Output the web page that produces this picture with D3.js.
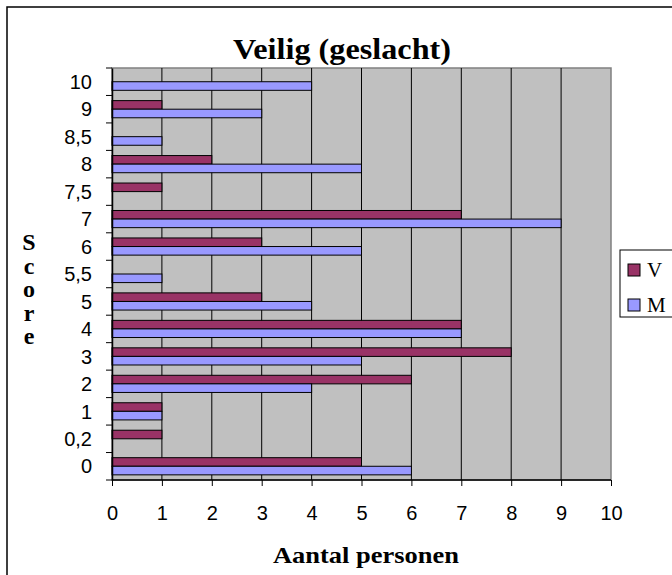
<!DOCTYPE html>
<meta charset="UTF-8">
<style>
  body { margin: 0; background: #fff; }
  .ttl { font-family: "Liberation Serif", "Times New Roman", serif; font-weight: bold; fill: #000; }
</style>
<body>
<svg id="chart" width="672" height="575"></svg>
<script src="https://cdnjs.cloudflare.com/ajax/libs/d3/7.8.5/d3.min.js"></script>
<script>

// categories from top to bottom, as printed on the axis
var scores = ["10", "9", "8,5", "8", "7,5", "7", "6", "5,5", "5", "4", "3", "2", "1", "0,2", "0"];
var seriesNames = ["V", "M"];
var valuesV = [0, 1, 0, 2, 1, 7, 3, 0, 3, 7, 8, 6, 1, 1, 5];
var valuesM = [4, 3, 1, 5, 0, 9, 5, 1, 4, 7, 5, 4, 1, 0, 6];
var xTicks = [0, 1, 2, 3, 4, 5, 6, 7, 8, 9, 10];

var colors = {V: "#993366", M: "#9999FF"};
var tickFont = "'Liberation Sans', Arial, sans-serif";

var svg = d3.select("#chart");

// outer chart frame (runs off the picture on right and bottom)
svg.append("rect")
  .attr("x", 7).attr("y", 7)
  .attr("width", 720).attr("height", 620)
  .attr("fill", "#fff")
  .attr("stroke", "#000")
  .attr("stroke-width", 1.5);

var plot = {left: 112, right: 611, top: 68, bottom: 480};

var x = d3.scaleLinear().domain([0, 10]).range([plot.left, plot.right]);
var y = d3.scaleBand().domain(scores).range([plot.top, plot.bottom]);
var inner = d3.scaleBand().domain(seriesNames)
  .range([0, y.bandwidth()])
  .paddingOuter(0.6);

// plot area
svg.append("rect")
  .attr("x", plot.left).attr("y", plot.top)
  .attr("width", plot.right - plot.left).attr("height", plot.bottom - plot.top)
  .attr("fill", "#C0C0C0")
  .attr("stroke", "#808080")
  .attr("stroke-width", 1.5);

// vertical gridlines
svg.append("g").selectAll("line")
  .data(xTicks.slice(1, -1))
  .enter().append("line")
    .attr("x1", d => x(d)).attr("x2", d => x(d))
    .attr("y1", plot.top).attr("y2", plot.bottom)
    .attr("stroke", "#000")
    .attr("stroke-width", 1);

// bars
var rows = scores.map(function(s, i) {
  return {score: s, V: valuesV[i], M: valuesM[i]};
});

var group = svg.append("g").selectAll("g")
  .data(rows)
  .enter().append("g")
    .attr("transform", d => "translate(0," + y(d.score) + ")");

group.selectAll("rect")
  .data(d => seriesNames.map(k => ({key: k, value: d[k]})).filter(e => e.value > 0))
  .enter().append("rect")
    .attr("x", x(0))
    .attr("y", d => inner(d.key))
    .attr("width", d => x(d.value) - x(0))
    .attr("height", inner.bandwidth())
    .attr("fill", d => colors[d.key])
    .attr("stroke", "#000")
    .attr("stroke-width", 1);

// x axis
var xAxis = svg.append("g")
  .attr("transform", "translate(0," + plot.bottom + ")")
  .call(d3.axisBottom(x).tickValues(xTicks).tickSize(6).tickPadding(20).tickFormat(d3.format("d")));
xAxis.attr("font-size", 20).attr("font-family", tickFont);
xAxis.select(".domain").attr("stroke", "#000").attr("stroke-width", 1.5).attr("d", "M" + plot.left + ",0H" + plot.right);
xAxis.selectAll(".tick line").attr("stroke", "#000");

// y axis: labels at band centres, ticks at band boundaries
var yAxis = svg.append("g")
  .attr("transform", "translate(" + plot.left + ",0)")
  .call(d3.axisLeft(y).tickSize(0).tickPadding(20));
yAxis.attr("font-size", 20).attr("font-family", tickFont);
yAxis.select(".domain").attr("stroke", "#000").attr("stroke-width", 1.5);
yAxis.selectAll(".tick text").attr("dy", "0.36em");

var bounds = scores.map(s => y(s)).concat([plot.bottom]);
yAxis.append("g").selectAll("line")
  .data(bounds)
  .enter().append("line")
    .attr("x1", -6).attr("x2", 0)
    .attr("y1", d => d).attr("y2", d => d)
    .attr("stroke", "#000");

// titles
svg.append("text")
  .attr("class", "ttl")
  .attr("x", 342).attr("y", 59)
  .attr("text-anchor", "middle")
  .attr("textLength", 218)
  .attr("lengthAdjust", "spacingAndGlyphs")
  .style("font-size", "30px")
  .text("Veilig (geslacht)");

svg.append("text")
  .attr("class", "ttl")
  .attr("x", 366).attr("y", 563)
  .attr("text-anchor", "middle")
  .attr("textLength", 186)
  .attr("lengthAdjust", "spacingAndGlyphs")
  .style("font-size", "23px")
  .text("Aantal personen");

svg.append("g").selectAll("text")
  .data("Score".split(""))
  .enter().append("text")
    .attr("class", "ttl")
    .attr("x", 29)
    .attr("y", (d, i) => 250 + i * 23.5)
    .attr("text-anchor", "middle")
    .style("font-size", "24px")
    .text(d => d);

// legend
var legend = svg.append("g").attr("transform", "translate(620,250)");
legend.append("rect")
  .attr("width", 80).attr("height", 67)
  .attr("fill", "#fff")
  .attr("stroke", "#000");

var item = legend.selectAll("g.item")
  .data(seriesNames)
  .enter().append("g")
    .attr("class", "item")
    .attr("transform", (d, i) => "translate(8," + (14 + i * 35) + ")");

item.append("rect")
  .attr("width", 12).attr("height", 12)
  .attr("fill", d => colors[d])
  .attr("stroke", "#000");

item.append("text")
  .attr("x", 19).attr("y", 13)
  .style("font", "21px 'Liberation Serif', 'Times New Roman', serif")
  .text(d => d);

</script>
</body>
